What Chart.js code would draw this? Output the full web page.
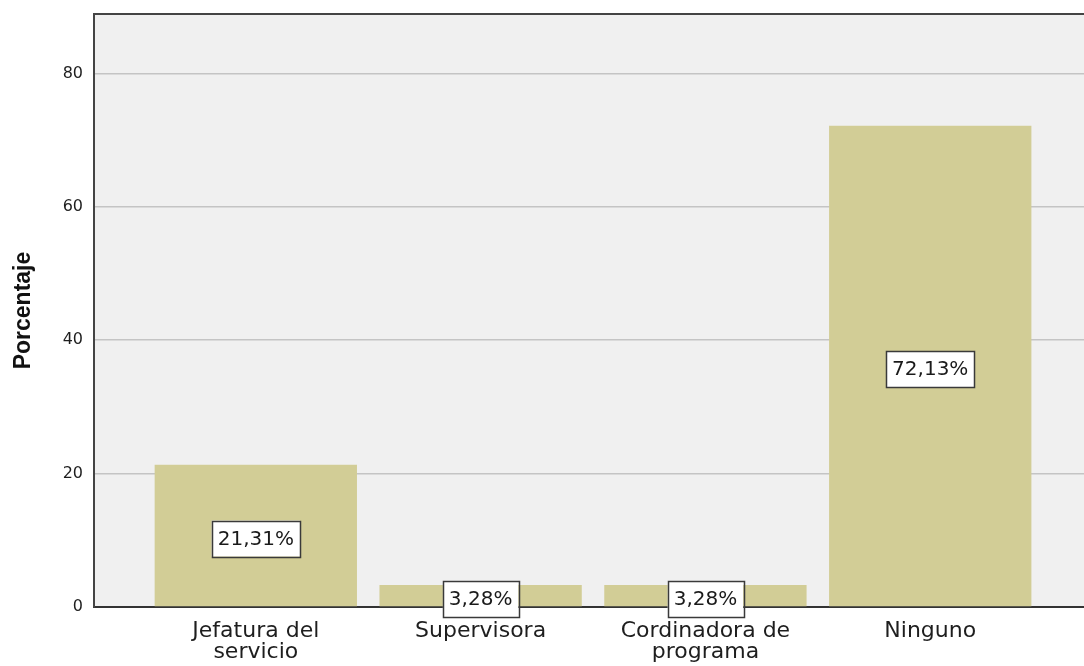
<!DOCTYPE html>
<html>
<head>
<meta charset="utf-8">
<script src="https://cdn.jsdelivr.net/npm/chart.js@4.4.1/dist/chart.umd.min.js"></script>
<style>
html,body{margin:0;padding:0;background:#ffffff;overflow:hidden;}
#wrap{width:1084px;height:666px;}
</style>
</head>
<body>
<div id="wrap"><canvas id="c" width="1084" height="666"></canvas></div>
<script>
const categories = ['Jefatura del servicio', 'Supervisora', 'Cordinadora de programa', 'Ninguno'];
const tickLabels = [['Jefatura del', 'servicio'], ['Supervisora'], ['Cordinadora de', 'programa'], ['Ninguno']];
const values = [21.31, 3.28, 3.28, 72.13];
const yTicks = [0, 20, 40, 60, 80];

const points = categories.map((c, i) => ({x: i, y: values[i]}));

const plotBg = {
  id: 'plotBg',
  beforeDraw(chart) {
    const {ctx, chartArea: a} = chart;
    ctx.save();
    ctx.fillStyle = '#f0f0f0';
    ctx.fillRect(a.left, a.top, a.right - a.left, a.bottom - a.top);
    ctx.restore();
  },
  afterDraw(chart) {
    const {ctx, chartArea: a} = chart;
    ctx.save();
    ctx.strokeStyle = '#444444';
    ctx.lineWidth = 2;
    ctx.beginPath();
    ctx.moveTo(a.left - 1, a.top);
    ctx.lineTo(a.right, a.top);
    ctx.stroke();
    ctx.restore();
  }
};

const valueBoxes = {
  id: 'valueBoxes',
  afterDatasetsDraw(chart) {
    const {ctx} = chart;
    const meta = chart.getDatasetMeta(0);
    ctx.save();
    ctx.font = '20px "DejaVu Sans"';
    ctx.textAlign = 'center';
    ctx.textBaseline = 'middle';
    meta.data.forEach((el, i) => {
      const txt = values[i].toFixed(2).replace('.', ',') + '%';
      const w = ctx.measureText(txt).width + 12;
      const h = 36;
      const cx = el.x;
      const cy = (el.y + el.base) / 2 + 3;
      ctx.fillStyle = '#ffffff';
      ctx.fillRect(cx - w / 2, cy - h / 2, w, h);
      ctx.strokeStyle = '#3a3a3a';
      ctx.lineWidth = 1.5;
      ctx.strokeRect(Math.round(cx - w / 2) + 0.5, Math.round(cy - h / 2) + 0.5, Math.round(w), h);
      ctx.fillStyle = '#1a1a1a';
      ctx.fillText(txt, cx, cy + 1);
    });
    ctx.restore();
  }
};

new Chart(document.getElementById('c'), {
  type: 'bar',
  data: {
    datasets: [{
      label: 'Porcentaje',
      data: points,
      backgroundColor: '#d2cd96',
      borderWidth: 0,
      barPercentage: 0.9,
      categoryPercentage: 1.0
    }]
  },
  options: {
    responsive: false,
    animation: false,
    events: [],
    layout: {padding: {top: 14, right: 0, bottom: 0, left: 0}},
    plugins: {legend: {display: false}, tooltip: {enabled: false}},
    scales: {
      x: {
        type: 'linear',
        offset: false,
        min: -0.7198,
        max: 3.684,
        afterBuildTicks(scale) { scale.ticks = categories.map((c, i) => ({value: i})); },
        afterFit(scale) { scale.height = 59; scale.paddingLeft = 0; scale.paddingRight = 0; },
        grid: {display: false, drawTicks: false, offset: false},
        border: {display: true, color: '#333333', width: 2},
        ticks: {
          callback: (v) => tickLabels[v] || '',
          font: {family: 'DejaVu Sans', size: 22, lineHeight: 0.95},
          color: '#1e1e1e',
          padding: 14,
          maxRotation: 0,
          autoSkip: false
        }
      },
      y: {
        min: 0,
        max: 88.9,
        afterBuildTicks(scale) { scale.ticks = yTicks.map(v => ({value: v})); },
        afterFit(scale) { scale.width = 94; scale.paddingTop = 0; scale.paddingBottom = 0; },
        grid: {color: '#c4c4c4', lineWidth: 1.5, drawTicks: false},
        border: {display: true, color: '#444444', width: 2},
        ticks: {
          font: {family: 'DejaVu Sans', size: 16},
          color: '#1e1e1e',
          padding: 11
        },
        title: {
          display: true,
          text: 'Porcentaje',
          font: {family: 'Liberation Sans', size: 23, weight: 'bold'},
          color: '#111111',
          padding: {top: 10, bottom: 0}
        }
      }
    }
  },
  plugins: [plotBg, valueBoxes]
});
</script>
</body>
</html>
